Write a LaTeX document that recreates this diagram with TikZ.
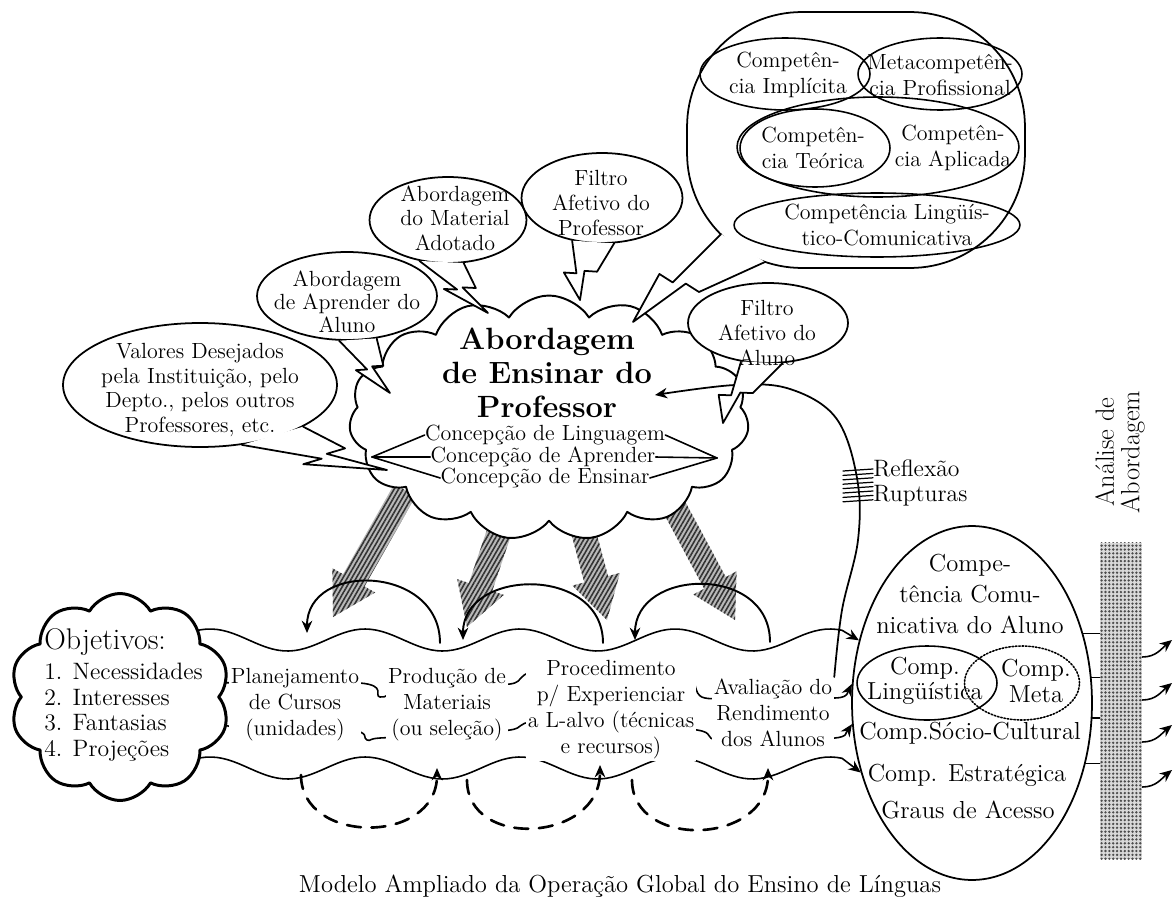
\documentclass[tikz,border=0pt]{standalone}
\usepackage{fontspec}
\usetikzlibrary{calc,shapes.geometric,shapes.symbols,patterns.meta,arrows.meta}
\begin{document}
\begin{tikzpicture}[x=0.02cm,y=-0.02cm,>={Stealth[length=7pt,width=6pt]},line join=round,line cap=round,
	every node/.style={font=\fontsize{12.5}{14}\selectfont,inner sep=0pt,align=center},
	bubble/.style={draw,ellipse,fill=white,line width=1pt},
	ring/.style={draw,ellipse,line width=0.9pt},
	tailst/.style={draw,fill=white,line width=1pt},
	hatch/.style={preaction={fill=gray!55},pattern={Lines[angle=60,distance=2.2pt,line width=0.9pt]},pattern color=black!80},
	wavest/.style={line width=0.9pt},
	arcst/.style={line width=1.1pt,->},
	dasharc/.style={line width=1.5pt,dash pattern=on 8pt off 6pt,->},
	bandtx/.style={fill=white,inner sep=1pt,font=\fontsize{12.5}{14.8}\selectfont},
	cebig/.style={font=\fontsize{14}{14.5}\selectfont}]
	\useasboundingbox (0,0) rectangle (1176,909);
	\path
	(405,490) coordinate (hs1) (333,617) coordinate (he1)
	(510,500) coordinate (hs2) (467,627) coordinate (he2)
	(575,500) coordinate (hs3) (607,620) coordinate (he3)
	(665,490) coordinate (hs4) (735,620) coordinate (he4)
	(387,470) coordinate (vdT) (390,393) coordinate (aaT)
	(488,313) coordinate (amT) (580,300) coordinate (fpT)
	(723,423) coordinate (faT) (633,322) coordinate (cbT)
	(721,234) coordinate (cbA) (765,262) coordinate (cbB)
	(372,457) coordinate (lt) (717,458) coordinate (rt) (655,395) coordinate (lp)
	(440,643) coordinate (ua1) (307,633) coordinate (ub1)
	(603,643) coordinate (ua2) (463,640) coordinate (ub2)
	(770,642) coordinate (ua3) (635,640) coordinate (ub3)
	(301,775) coordinate (da1) (437,768) coordinate (db1)
	(467,780) coordinate (da2) (600,765) coordinate (db2)
	(632,780) coordinate (da3) (768,768) coordinate (db3);
	\foreach \i in {1,...,4}{
		\coordinate (H) at ($(he\i)!24pt!(hs\i)$);
		\path[hatch] ($(hs\i)!7pt!90:(he\i)$) -- ($(H)!7pt!90:(he\i)$) -- ($(H)!14pt!90:(he\i)$) -- (he\i)
		-- ($(H)!14pt!-90:(he\i)$) -- ($(H)!7pt!-90:(he\i)$) -- ($(hs\i)!7pt!-90:(he\i)$) -- cycle;
	}
	\node[cloud,draw,fill=white,line width=1.1pt,cloud puffs=15,cloud puff arc=115,cloud ignores aspect,
	minimum width=8cm,minimum height=4.9cm] (ab) at (549,418) {};
	\node[draw,ellipse,line width=1pt,minimum width=4.8cm,minimum height=7.08cm] (ce) at (972,703) {};
	\node[preaction={fill=gray!30},pattern={Dots[distance=2.2pt,radius=0.75pt]},pattern color=black!70,
	minimum width=0.84cm,minimum height=6.34cm] (bar) at (1121,701) {};
	\draw[wavest,->] plot[domain=190:842,samples=120] (\x,{640-11*cos(2.32258*(\x-210))}) -- (ce.151);
	\draw[wavest,->] plot[domain=190:842,samples=120] (\x,{768-11*cos(2.32258*(\x-210))}) -- (ce.212);
	\draw[wavest,->] plot[smooth,tension=0.6] coordinates {(215,683) (360,683) (380,697) (400,690) (448,682) (510,684)
		(543,670) (677,672) (705,698) (773,692) (833,698) (847,694)} -- (ce.171);
	\draw[wavest,->] plot[smooth,tension=0.6] coordinates {(215,718) (240,728) (350,730) (367,740) (380,738) (445,735)
		(510,730) (533,722) (610,724) (697,730) (717,740) (775,740) (835,738) (846,733)} -- (ce.190);
	\foreach \i in {1,2,3}{
		\draw[arcst] (ua\i) .. controls +(0,-78) and +(0,-72) .. (ub\i);
		\draw[dasharc] (da\i) .. controls +(0,70) and +(0,77) .. (db\i);
	}
	\node[cloud,draw,fill=white,line width=1.7pt,cloud puffs=10,cloud puff arc=120,cloud ignores aspect,
	minimum width=4.4cm,minimum height=4.14cm] (ob) at (120,697) {};
	\node[align=left,anchor=north west,font=\fontsize{13.5}{14.5}\selectfont] (obt) at (44,628)
	{{\fontsize{17}{17}\selectfont Objetivos:}\\[3pt]1. Necessidades\\2. Interesses\\3. Fantasias\\4. Projeções};
	\node[bandtx] (pl) at (295,705) {Planejamento\\de Cursos\\(unidades)};
	\node[bandtx] (pr) at (447,705) {Produção de\\Materiais\\(ou seleção)};
	\node[bandtx] (pc) at (611,710) {Procedimento\\p/ Experienciar\\a L-alvo (técnicas\\e recursos)};
	\node[bandtx] (av) at (773,713) {Avaliação do\\Rendimento\\dos Alunos};
	\draw[line width=1pt,->] plot[smooth,tension=0.6] coordinates {(av.north east) (842,610) (858,540) (857,478)
		(836,418) (790,389) (735,385) (lp)};
	\foreach \k in {0,...,7}
	\draw[line width=0.7pt] (843,{471+4.4*\k}) -- (873,{469+4.4*\k});
	\node[anchor=west,font=\fontsize{13.5}{15}\selectfont] (rfx) at (873,468) {Reflexão};
	\node[anchor=west,font=\fontsize{13.5}{15}\selectfont] (rup) at (873,496) {Rupturas};
	\node[bubble,minimum width=5.48cm,minimum height=2.48cm] (vd) at (200,385) {};
	\node[bubble,minimum width=3.6cm,minimum height=1.76cm] (aa) at (347,296) {};
	\node[bubble,minimum width=3.14cm,minimum height=1.72cm] (am) at (448,220) {};
	\node[bubble,minimum width=3.22cm,minimum height=1.8cm] (fp) at (602,198) {};
	\node[bubble,minimum width=3.2cm,minimum height=1.6cm] (fa) at (768,323) {};
	\node[draw,fill=white,line width=1pt,rounded corners=2.3cm,minimum width=6.76cm,minimum height=5.12cm] (cb) at (856,140) {};
	\foreach \a/\b/\t in {vd.-55/vd.-22/vdT,aa.-100/aa.-55/aaT,am.-125/am.-70/amT,fp.-125/fp.-75/fpT,fa.-125/fa.-70/faT,cbA/cbB/cbT}
	\filldraw[tailst] (\a) -- ($(\a)!0.55!(\t)$) -- ($(\a)!0.55!(\t)+0.3*(\a)-0.3*(\b)$) -- (\t)
	-- ($(\b)!0.5!(\t)+0.3*(\a)-0.3*(\b)$) -- ($(\b)!0.5!(\t)$) -- (\b);
	\node[ring,minimum width=3.4cm,minimum height=1.44cm] (ci) at (785,74) {};
	\node[ring,minimum width=3.28cm,minimum height=1.44cm] (mp) at (940,74) {};
	\node[ring,minimum width=5.64cm,minimum height=2cm] (ca) at (878,147) {};
	\node[ring,minimum width=3cm,minimum height=1.56cm] (ct) at (815,148) {};
	\node[ring,minimum width=5.72cm,minimum height=1.28cm] (cl) at (877,225) {};
	\node[font=\fontsize{12.5}{14.5}\selectfont] (cit) at (788,75) {Competên-\\cia Implícita};
	\node[font=\fontsize{12.5}{14.5}\selectfont] (mpt) at (940,75) {Metacompetên-\\cia Profissional};
	\node[font=\fontsize{12.5}{14.5}\selectfont] (ctt) at (813,148) {Competên-\\cia Teórica};
	\node[font=\fontsize{12.5}{14.5}\selectfont] (cat) at (953,148) {Competên-\\cia Aplicada};
	\node[font=\fontsize{12.5}{14.5}\selectfont] (clt) at (887,225) {Competência Lingüís-\\tico-Comunicativa};
	\node (fpt) at (601,203) {Filtro\\Afetivo do\\Professor};
	\node (amt) at (455,218) {Abordagem\\do Material\\Adotado};
	\node[font=\fontsize{12.5}{13}\selectfont] (aat) at (347,302) {Abordagem\\de Aprender do\\Aluno};
	\node (vdt) at (200,390) {Valores Desejados\\pela Instituição, pelo\\Depto., pelos outros\\Professores, etc.};
	\node (fat) at (767,333) {Filtro\\Afetivo do\\Aluno};
	\node[font=\fontsize{17.5}{19.5}\selectfont\bfseries] (abt) at (547,373) {Abordagem\\de Ensinar do\\Professor};
	\node[font=\fontsize{12.5}{13}\selectfont] (cc1) at (545,435) {Concepção de Linguagem};
	\node[font=\fontsize{12.5}{13}\selectfont] (cc2) at (543,457) {Concepção de Aprender};
	\node[font=\fontsize{12.5}{13}\selectfont] (cc3) at (545,478) {Concepção de Ensinar};
	\foreach \c in {cc1,cc2,cc3}
	\draw[line width=0.9pt] (\c.west) -- (lt) (\c.east) -- (rt);
	\node[font=\fontsize{14}{17.5}\selectfont] (cet) at (970,594) {Compe-\\tência Comu-\\nicativa do Aluno};
	\node[ring,minimum width=2.8cm,minimum height=1.48cm] (cli) at (927,683) {};
	\node[ring,densely dotted,minimum width=2.3cm,minimum height=1.48cm] (cme) at (1022,683) {};
	\node[cebig] (clit) at (925,681) {Comp.\\Lingüística};
	\node[cebig] (cmet) at (1036,681) {Comp.\\Meta};
	\node[cebig] (cso) at (970,733) {Comp.Sócio-Cultural};
	\node[cebig] (ces) at (967,775) {Comp. Estratégica};
	\node[cebig] (cga) at (968,810) {Graus de Acesso};
	\foreach \a in {32,12,-7,-28}
	\draw[line width=0.9pt] (ce.\a) -- (ce.\a -| bar.west);
	\foreach \k/\y in {1/657,2/700,3/742,4/787}{
		\coordinate (rs\k) at (bar.east |- 0,\y);
		\coordinate (re\k) at (1172,{\y-17});
		\draw[line width=0.9pt,->] (rs\k) .. controls +(14,0) and +(-10,8) .. (re\k);
	}
	\node[rotate=90,font=\fontsize{15}{14.5}\selectfont] (an) at (1120,452) {Análise de\\Abordagem};
	\node[font=\fontsize{14}{16}\selectfont] (cap) at (620,886) {Modelo Ampliado da Operação Global do Ensino de Línguas};
\end{tikzpicture}
\end{document}
